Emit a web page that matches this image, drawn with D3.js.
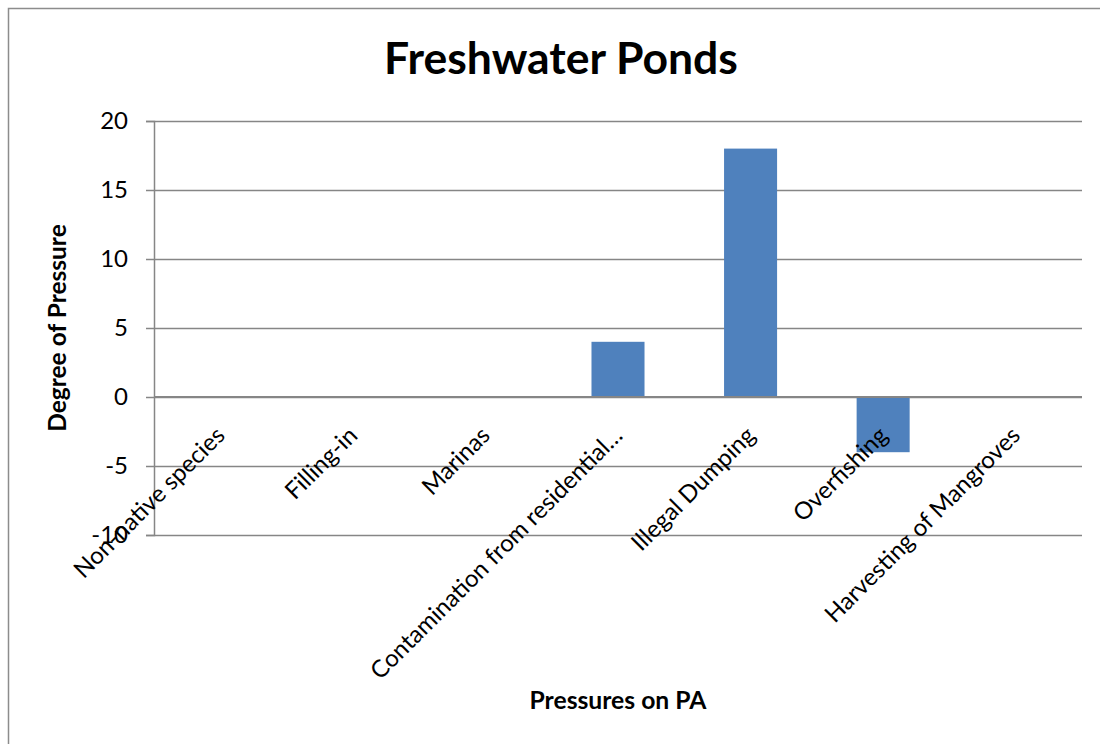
<!DOCTYPE html>
<html>
<head>
<meta charset="utf-8">
<script src="https://cdn.jsdelivr.net/npm/d3@7"></script>
<style>
  html, body { margin: 0; padding: 0; background: #fff; }
  svg { display: block; }
</style>
</head>
<body>
<svg id="chart" width="1100" height="744"></svg>
<script>
const categories = [
  "Non-native species",
  "Filling-in",
  "Marinas",
  "Contamination from residential…",
  "Illegal Dumping",
  "Overfishing",
  "Harvesting of Mangroves"
];
const values = [0, 0, 0, 4, 18, -4, 0];
const yTicks = [-10, -5, 0, 5, 10, 15, 20];
const titleText = "Freshwater Ponds";
const xTitle = "Pressures on PA";
const yTitle = "Degree of Pressure";

const svg = d3.select("#chart");
const font = "Lato, 'Open Sans', sans-serif";
const margin = { left: 154, right: 1082, top: 121, bottom: 535 };

// outer chart border
svg.append("rect")
  .attr("x", 8.5).attr("y", 8.5)
  .attr("width", 1120).attr("height", 760)
  .attr("fill", "#fff")
  .attr("stroke", "#8c8c8c").attr("stroke-width", 1.5);

const x = d3.scaleBand().domain(categories).range([margin.left, margin.right])
  .paddingInner(0.6).paddingOuter(0.3);
const xc = d3.scaleBand().domain(categories).range([margin.left, margin.right]);
const y = d3.scaleLinear().domain([-10, 20]).range([margin.bottom, margin.top]);

// y axis with ticks
const yAxis = d3.axisLeft(y).tickValues(yTicks).tickSize(8).tickPadding(18).tickFormat(d => String(d));
const gy = svg.append("g").attr("transform", `translate(${margin.left},0)`).call(yAxis);
gy.select(".domain").attr("stroke", "#868686").attr("stroke-width", 1.5);
gy.selectAll(".tick line").attr("stroke", "#868686").attr("stroke-width", 1.5);
gy.selectAll(".tick text")
  .attr("font-family", font).attr("font-size", 24).attr("fill", "#000");

// gridlines
const grid = d3.axisLeft(y).tickValues(yTicks).tickSize(-(margin.right - margin.left)).tickFormat("");
const gg = svg.append("g").attr("transform", `translate(${margin.left},0)`).call(grid);
gg.select(".domain").remove();
gg.selectAll(".tick line").attr("stroke", "#868686").attr("stroke-width", 1.5);

// bars
svg.append("g").selectAll("rect").data(categories.map((c, i) => ({ c, v: values[i] })).filter(d => d.v !== 0))
  .enter().append("rect")
  .attr("x", d => x(d.c))
  .attr("width", x.bandwidth())
  .attr("y", d => y(Math.max(0, d.v)))
  .attr("height", d => Math.abs(y(d.v) - y(0)))
  .attr("fill", "#4f81bd");

// zero axis line
svg.append("line")
  .attr("x1", margin.left).attr("x2", margin.right)
  .attr("y1", y(0)).attr("y2", y(0))
  .attr("stroke", "#868686").attr("stroke-width", 2);

// category labels
svg.append("g").selectAll("text").data(categories).enter().append("text")
  .attr("transform", d => `translate(${xc(d) + xc.bandwidth() / 2 + 6},${y(0) + 40}) rotate(-45)`)
  .attr("text-anchor", "end")
  .attr("font-family", font).attr("font-size", 24).attr("fill", "#000")
  .text(d => d);

// titles
svg.append("text")
  .attr("x", 561).attr("y", 74)
  .attr("text-anchor", "middle")
  .attr("font-family", font).attr("font-weight", "bold").attr("font-size", 44.5)
  .text(titleText);

svg.append("text")
  .attr("x", (margin.left + margin.right) / 2).attr("y", 709)
  .attr("text-anchor", "middle")
  .attr("font-family", font).attr("font-weight", "bold").attr("font-size", 24.7)
  .text(xTitle);

svg.append("text")
  .attr("transform", `translate(66,${(margin.top + margin.bottom) / 2}) rotate(-90)`)
  .attr("text-anchor", "middle")
  .attr("font-family", font).attr("font-weight", "bold").attr("font-size", 24.5)
  .text(yTitle);
</script>
</body>
</html>
